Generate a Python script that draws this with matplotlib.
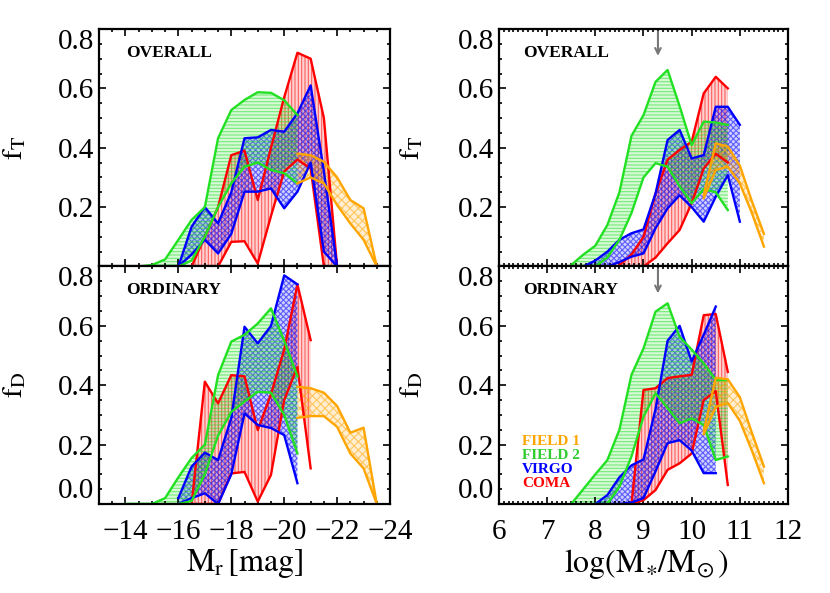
import numpy as np
import matplotlib
matplotlib.use("Agg")
import matplotlib.pyplot as plt
from matplotlib.colors import to_rgb
from matplotlib.ticker import MultipleLocator

plt.rcParams['font.family'] = ['Liberation Serif', 'DejaVu Serif']
plt.rcParams['mathtext.fontset'] = 'stix'
plt.rcParams['mathtext.default'] = 'rm'
plt.rcParams['hatch.linewidth'] = 0.8

N = None

# bins (absolute r-band magnitude, left column)
mr_bins = [-14.0, -14.5, -15.0, -15.5, -16.0, -16.5, -17.0, -17.5, -18.0, -18.5,
           -19.0, -19.5, -20.0, -20.5, -21.0, -21.5, -22.0, -22.5, -23.0, -23.5]
# bins (log stellar mass, right column)
mass_bins = [7.5, 7.75, 8.0, 8.25, 8.5, 8.75, 9.0, 9.25, 9.5, 9.75,
             10.0, 10.25, 10.5, 10.75, 11.0, 11.25, 11.5]

# --- OVERALL vs Mr ---
ov_mr_coma_hi = [N, N, N, N, N, 0.0, 0.10, 0.20, 0.375, 0.39, 0.224, 0.40, 0.57, 0.72, 0.70, 0.50, 0.0, 0.0, 0.0, N]
ov_mr_coma_lo = [N, N, N, N, N, 0.0, 0.0, 0.0, 0.083, 0.085, 0.01, 0.17, 0.32, 0.36, 0.33, 0.0, 0.0, 0.0, 0.0, N]
ov_mr_virgo_hi = [N, N, N, N, 0.0, 0.134, 0.20, 0.145, 0.25, 0.432, 0.435, 0.46, 0.454, 0.516, 0.61, 0.32, 0.0, N, N, N]
ov_mr_virgo_lo = [N, N, N, N, 0.0, 0.04, 0.09, 0.044, 0.11, 0.252, 0.252, 0.263, 0.196, 0.252, 0.35, 0.05, 0.0, N, N, N]
ov_mr_field2_hi = [0.0, 0.0, 0.005, 0.024, 0.09, 0.157, 0.20, 0.432, 0.527, 0.561, 0.587, 0.585, 0.56, 0.51, N, N, N, N, N, N]
ov_mr_field2_lo = [0.0, 0.0, 0.0, 0.0, 0.0, 0.02, 0.10, 0.20, 0.28, 0.336, 0.35, 0.325, 0.314, 0.28, N, N, N, N, N, N]
ov_mr_field1_hi = [N, N, N, N, N, N, N, N, N, N, N, N, N, 0.38, 0.375, 0.353, 0.30, 0.224, 0.196, 0.0]
ov_mr_field1_lo = [N, N, N, N, N, N, N, N, N, N, N, N, N, 0.28, 0.30, 0.28, 0.207, 0.145, 0.09, 0.0]

# --- ORDINARY vs Mr ---
od_mr_coma_hi = [N, N, N, N, N, 0.0, 0.412, 0.339, 0.434, 0.43, 0.249, 0.37, 0.52, 0.74, 0.552, N, N, N, N, N]
od_mr_coma_lo = [N, N, N, N, N, 0.0, 0.0, 0.0, 0.103, 0.108, 0.008, 0.098, 0.35, 0.462, 0.12, N, N, N, N, N]
od_mr_virgo_hi = [N, N, N, N, 0.02, 0.126, 0.173, 0.148, 0.29, 0.597, 0.541, 0.60, 0.77, 0.74, N, N, N, N, N, N]
od_mr_virgo_lo = [N, N, N, N, 0.0, 0.02, 0.036, 0.0, 0.10, 0.305, 0.266, 0.256, 0.232, 0.07, N, N, N, N, N, N]
od_mr_field2_hi = [0.0, 0.0, 0.0, 0.02, 0.09, 0.155, 0.20, 0.434, 0.547, 0.57, 0.608, 0.659, 0.55, 0.43, N, N, N, N, N, N]
od_mr_field2_lo = [0.0, 0.0, 0.0, 0.0, 0.0, 0.01, 0.10, 0.23, 0.31, 0.345, 0.378, 0.375, 0.30, 0.17, N, N, N, N, N, N]
od_mr_field1_hi = [N, N, N, N, N, N, N, N, N, N, N, N, N, 0.395, 0.39, 0.375, 0.33, 0.24, 0.257, 0.0]
od_mr_field1_lo = [N, N, N, N, N, N, N, N, N, N, N, N, N, 0.29, 0.296, 0.296, 0.26, 0.17, 0.12, 0.0]

# --- OVERALL vs mass ---
ov_m_coma_hi = [N, N, N, N, 0.005, 0.04, 0.10, 0.246, 0.36, 0.393, 0.42, 0.583, 0.639, 0.60, N, N, N]
ov_m_coma_lo = [N, N, N, N, 0.0, 0.0, 0.0, 0.03, 0.078, 0.123, 0.213, 0.33, 0.38, 0.35, N, N, N]
ov_m_virgo_hi = [N, 0.0, 0.02, 0.05, 0.09, 0.112, 0.125, 0.246, 0.426, 0.46, 0.364, 0.375, 0.538, 0.538, 0.477, N, N]
ov_m_virgo_lo = [N, 0.0, 0.0, 0.0, 0.015, 0.033, 0.044, 0.129, 0.196, 0.24, 0.20, 0.151, 0.235, 0.308, 0.151, N, N]
ov_m_field2_hi = [0.005, 0.04, 0.07, 0.14, 0.25, 0.44, 0.51, 0.622, 0.662, 0.54, 0.409, 0.488, 0.485, 0.477, N, N, N]
ov_m_field2_lo = [0.0, 0.0, 0.0, 0.03, 0.09, 0.18, 0.30, 0.348, 0.336, 0.27, 0.213, 0.26, 0.25, 0.19, N, N, N]
ov_m_field1_hi = [N, N, N, N, N, N, N, N, N, N, N, 0.24, 0.415, 0.404, 0.34, 0.22, 0.11]
ov_m_field1_lo = [N, N, N, N, N, N, N, N, N, N, N, 0.23, 0.325, 0.336, 0.28, 0.18, 0.067]

# --- ORDINARY vs mass ---
od_m_coma_hi = [N, N, N, N, N, 0.0, 0.384, 0.39, 0.424, 0.43, 0.435, 0.636, 0.64, 0.445, N, N, N]
od_m_coma_lo = [N, N, N, N, N, 0.0, 0.013, 0.047, 0.115, 0.137, 0.17, 0.35, 0.38, 0.064, N, N, N]
od_m_virgo_hi = [N, N, 0.0, 0.03, 0.09, 0.13, 0.15, 0.32, 0.55, 0.60, 0.48, 0.57, 0.665, N, N, N, N]
od_m_virgo_lo = [N, N, 0.0, 0.0, 0.0, 0.005, 0.02, 0.11, 0.205, 0.215, 0.18, 0.104, 0.104, N, N, N, N]
od_m_field2_hi = [0.0, 0.05, 0.10, 0.148, 0.25, 0.435, 0.524, 0.648, 0.676, 0.563, 0.52, 0.474, 0.418, 0.418, N, N, N]
od_m_field2_lo = [0.0, 0.0, 0.0, 0.0, 0.058, 0.16, 0.294, 0.373, 0.323, 0.272, 0.288, 0.266, 0.148, 0.16, N, N, N]
od_m_field1_hi = [N, N, N, N, N, N, N, N, N, N, N, 0.245, 0.425, 0.42, 0.36, 0.24, 0.126]
od_m_field1_lo = [N, N, N, N, N, N, N, N, N, N, N, 0.235, 0.327, 0.34, 0.28, 0.18, 0.07]

# samples, drawn in this order
sample_colors = ['#ff0000', '#0000ff', '#22e022', '#ffa500']
sample_hatch = ['|||||', 'xxxxxx', '-----', 'xxxx']

mark_logm = 9.3  # arrow position


def band(ax, x, lo, hi, color, hatch):
    x = np.array(x, dtype=float)
    lo = np.array(lo, dtype=float)
    hi = np.array(hi, dtype=float)
    r, g, b = to_rgb(color)
    ax.fill_between(x, lo, hi, facecolor=(r, g, b, 0.18), edgecolor=(r, g, b, 0.55),
                    hatch=hatch, linewidth=0)
    ax.plot(x, lo, color=color, lw=1.7)
    ax.plot(x, hi, color=color, lw=1.7)


def style_axes(ax, top_row, mass_col):
    ax.set_ylim(0, 0.8)
    ax.yaxis.set_major_locator(MultipleLocator(0.2))
    ax.yaxis.set_minor_locator(MultipleLocator(0.05))
    if mass_col:
        ax.set_xlim(6, 12)
        ax.xaxis.set_major_locator(MultipleLocator(1))
        ax.xaxis.set_minor_locator(MultipleLocator(0.1))
    else:
        ax.set_xlim(-13, -24)
        ax.xaxis.set_major_locator(MultipleLocator(2))
        ax.xaxis.set_minor_locator(MultipleLocator(0.5))
    ax.tick_params(which='both', direction='in', top=True, right=True, width=1.2)
    ax.tick_params(which='major', length=5, labelsize=21)
    ax.tick_params(which='minor', length=2.5)
    ax.tick_params(axis='x', pad=11)
    for s in ax.spines.values():
        s.set_linewidth(1.6)
    yt = [0.0, 0.2, 0.4, 0.6, 0.8]
    if top_row:
        ax.set_yticks(yt, ['', '0.2', '0.4', '0.6', '0.8'])
        ax.tick_params(axis='x', labelbottom=False)
    else:
        ax.set_yticks(yt, ['0.0', '0.2', '0.4', '0.6', '0.8'])
    labs = ax.get_yticklabels()
    labs[-1].set_va('top')
    labs[0].set_va('bottom')


fig = plt.figure(figsize=(8.3, 5.93), dpi=100)
ax_tl = fig.add_axes([0.1193, 0.5506, 0.3506, 0.4005])
ax_bl = fig.add_axes([0.1193, 0.1501, 0.3506, 0.4005])
ax_tr = fig.add_axes([0.6012, 0.5506, 0.3482, 0.4005])
ax_br = fig.add_axes([0.6012, 0.1501, 0.3482, 0.4005])

panels = [
    (ax_tl, mr_bins, [(ov_mr_coma_lo, ov_mr_coma_hi), (ov_mr_virgo_lo, ov_mr_virgo_hi),
                      (ov_mr_field2_lo, ov_mr_field2_hi), (ov_mr_field1_lo, ov_mr_field1_hi)], True, False),
    (ax_bl, mr_bins, [(od_mr_coma_lo, od_mr_coma_hi), (od_mr_virgo_lo, od_mr_virgo_hi),
                      (od_mr_field2_lo, od_mr_field2_hi), (od_mr_field1_lo, od_mr_field1_hi)], False, False),
    (ax_tr, mass_bins, [(ov_m_coma_lo, ov_m_coma_hi), (ov_m_virgo_lo, ov_m_virgo_hi),
                        (ov_m_field2_lo, ov_m_field2_hi), (ov_m_field1_lo, ov_m_field1_hi)], True, True),
    (ax_br, mass_bins, [(od_m_coma_lo, od_m_coma_hi), (od_m_virgo_lo, od_m_virgo_hi),
                        (od_m_field2_lo, od_m_field2_hi), (od_m_field1_lo, od_m_field1_hi)], False, True),
]

for ax, bins, series, top_row, mass_col in panels:
    for (lo, hi), col, hat in zip(series, sample_colors, sample_hatch):
        band(ax, bins, lo, hi, col, hat)
    style_axes(ax, top_row, mass_col)
    tx = 0.082 if mass_col else 0.093
    ax.text(tx, 0.9, 'OVERALL' if top_row else 'ORDINARY', transform=ax.transAxes,
            fontsize=12.5, fontweight='bold', va='center', ha='left')
    ax.set_ylabel('$f_T$' if top_row else '$f_D$', fontsize=21)
    ax.yaxis.set_label_coords(-0.256 if mass_col else -0.244, 0.5)
    if mass_col:
        ax.annotate('', xy=(mark_logm, 0.70), xytext=(mark_logm, 0.8),
                    arrowprops=dict(arrowstyle='->', color='#777777', lw=1.5))

ax_bl.set_xlabel('$M_r\\,[\\mathrm{mag}]$', fontsize=23)
ax_br.set_xlabel('$\\log(M_{\\!\\ast}\\!/M_{\\!\\odot})$', fontsize=23)
ax_bl.xaxis.set_label_coords(0.5, -0.18)
ax_br.xaxis.set_label_coords(0.51, -0.18)

# legend as coloured words
leg_y = [0.265, 0.205, 0.145, 0.085]
for name, col, yy in zip(['FIELD 1', 'FIELD 2', 'VIRGO', 'COMA'],
                         ['#ffa500', '#33cc33', '#0000ff', '#ff0000'], leg_y):
    ax_br.text(0.08, yy, name, color=col, transform=ax_br.transAxes,
               fontsize=11, fontweight='bold', va='center', ha='left')

fig.savefig('out.png', dpi=100)
